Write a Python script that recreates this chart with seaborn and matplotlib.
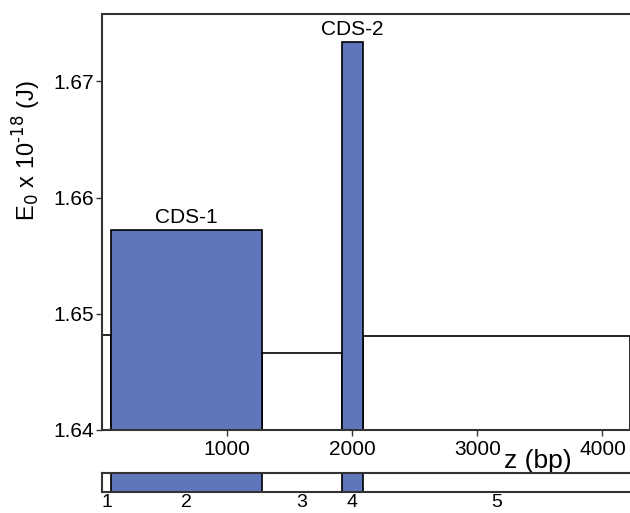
import matplotlib
matplotlib.use("Agg")
import matplotlib.pyplot as plt
import seaborn as sns
import numpy as np

# Segment data
seg_labels = ["1", "2", "3", "4", "5"]
seg_edges = [0, 75, 1279, 1918, 2086, 4220]
seg_energy = [1.6482, 1.6572, 1.6466, 1.6734, 1.6481]
seg_is_cds = [False, True, False, True, False]
cds_names = {1: "CDS-1", 3: "CDS-2"}
yticks = [1.64, 1.65, 1.66, 1.67]
xticks = [1000, 2000, 3000, 4000]

blue = "#5e77bb"

sns.set_style("ticks")
plt.rcParams['font.family'] = ['Liberation Sans', 'DejaVu Sans']
plt.rcParams['text.color'] = 'black'
plt.rcParams['axes.labelcolor'] = 'black'
plt.rcParams['xtick.color'] = 'black'
plt.rcParams['ytick.color'] = 'black'

fig = plt.figure(figsize=(6.3, 5.13), dpi=100)
ax = fig.add_axes([102/630, 83/513, 1 - 102/630, 416/513])
ax2 = fig.add_axes([102/630, 21/513, 1 - 102/630, 19/513])

mids = [(seg_edges[i] + seg_edges[i+1]) / 2 for i in range(len(seg_labels))]
m_non = [m for m, c in zip(mids, seg_is_cds) if not c]
e_non = [e for e, c in zip(seg_energy, seg_is_cds) if not c]
m_cds = [m for m, c in zip(mids, seg_is_cds) if c]
e_cds = [e for e, c in zip(seg_energy, seg_is_cds) if c]

sns.histplot(x=m_non, weights=e_non, bins=seg_edges, ax=ax, color="white",
             alpha=1, edgecolor="black", linewidth=1.2)
sns.histplot(x=m_cds, weights=e_cds, bins=seg_edges, ax=ax, color=blue,
             alpha=1, edgecolor="black", linewidth=1.2)

ax.set_xlim(seg_edges[0], seg_edges[-1])
ax.set_ylim(1.64, 1.6758)
ax.set_yticks(yticks)
ax.set_yticklabels([f"{v:.2f}" for v in yticks])
ax.set_xticks(xticks)
ax.set_xticklabels([str(v) for v in xticks])
ax.tick_params(axis="both", labelsize=15, length=4, width=1, direction="out", color="#333333")
ax.tick_params(axis="x", pad=3)
ax.tick_params(axis="y", pad=2)
for s in ["left", "top", "bottom"]:
    ax.spines[s].set_linewidth(1.5)
    ax.spines[s].set_color("#333333")
ax.spines["right"].set_visible(False)

for i, name in cds_names.items():
    ax.annotate(name, (mids[i], seg_energy[i]), xytext=(0, 2), textcoords="offset points",
                ha="center", va="bottom", fontsize=15)

ax.set_ylabel(r"E$_0$ x 10$^{\text{-18}}$ (J)", fontsize=17)
ax.yaxis.set_label_coords(-0.112, (430 - 150) / 416)
ax.set_xlabel("z (bp)", fontsize=19)
ax.xaxis.set_label_coords((538 - 102) / 528, -0.045)

# Bottom strip
sns.histplot(x=m_cds, weights=[1] * len(m_cds), bins=seg_edges, ax=ax2, color=blue,
             alpha=1, edgecolor="black", linewidth=1.2)
ax2.set_xlim(seg_edges[0], seg_edges[-1])
ax2.set_ylim(0, 1)
ax2.set_yticks([])
ax2.set_ylabel("")
ax2.set_xticks(mids)
ax2.set_xticklabels(seg_labels)
ax2.tick_params(axis="x", length=0, labelsize=14, pad=1.5)
for s in ["left", "top", "bottom"]:
    ax2.spines[s].set_linewidth(1.5)
    ax2.spines[s].set_color("#333333")
ax2.spines["right"].set_visible(False)

fig.savefig("out.png", dpi=100)
